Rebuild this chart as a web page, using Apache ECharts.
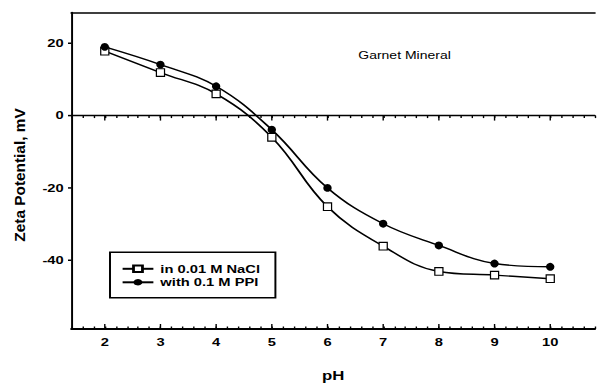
<!DOCTYPE html>
<html>
<head>
<meta charset="utf-8">
<script src="https://cdn.jsdelivr.net/npm/echarts@6/dist/echarts.min.js"></script>
<style>
  html, body { margin: 0; padding: 0; background: #fff; overflow: hidden; }
  /* the reference text is wide, so the chart is drawn narrow and stretched */
  #main { width: 428px; height: 387px; transform: scaleX(1.3995); transform-origin: 0 0; }
</style>
</head>
<body>
<div id="main"></div>
<script>
const phValues = [2, 3, 4, 5, 6, 7, 8, 9, 10];
const naclZeta = [17.8, 11.9, 6.0, -6.0, -25.2, -36.1, -43.1, -44.1, -45.1];
const ppiZeta = [19.0, 14.1, 8.1, -3.9, -20.0, -29.9, -35.9, -40.9, -41.8];
const xMajorTicks = [2, 3, 4, 5, 6, 7, 8, 9, 10];
const yTickValues = [20, 0, -20, -40];
const xMin = 1.4, xMax = 10.8, yMin = -59, yMax = 28.5;

const font = 'Liberation Sans';
const isInt = v => Math.abs(v - Math.round(v)) < 1e-6;

const myChart = echarts.init(document.getElementById('main'), null, { renderer: 'svg' });

const labelStyle = { color: '#000', fontWeight: 'bold', fontSize: 10.5, fontFamily: font };

const option = {
    animation: false,
    backgroundColor: '#fff',
    title: {
        text: 'Garnet Mineral',
        left: 256,
        top: 51,
        padding: 0,
        textStyle: { color: '#000', fontWeight: 'normal', fontSize: 10, fontFamily: font }
    },
    legend: {
        data: ['in 0.01 M NaCl', 'with 0.1 M PPI'],
        orient: 'vertical',
        left: 78.6,
        top: 252.3,
        padding: [11, 11, 10, 8],
        itemGap: 2.5,
        itemWidth: 22,
        itemHeight: 8,
        borderColor: '#000',
        borderWidth: 1.4,
        selectedMode: false,
        textStyle: labelStyle
    },
    grid: { left: 51, top: 12.5, width: 379, height: 325.2 },
    xAxis: [
        {
            type: 'value', min: xMin, max: xMax, interval: 0.2, position: 'bottom',
            axisLine: { onZero: false, lineStyle: { color: '#000', width: 1.8 } },
            axisTick: { inside: true, length: 2.5, lineStyle: { color: '#000', width: 1 } },
            splitLine: { show: false },
            axisLabel: Object.assign({ margin: 8, formatter: v => isInt(v) ? String(Math.round(v)) : '' }, labelStyle),
            name: 'pH', nameLocation: 'middle', nameGap: 41,
            nameTextStyle: { color: '#000', fontWeight: 'bold', fontSize: 12, fontFamily: font }
        },
        {
            // top border
            type: 'value', min: xMin, max: xMax, interval: 0.2, position: 'top',
            axisLine: { onZero: false, lineStyle: { color: '#000', width: 1.6 } },
            axisTick: { show: false }, axisLabel: { show: false }, splitLine: { show: false }
        },
        {
            // zero line
            type: 'value', min: xMin, max: xMax, interval: 0.2, position: 'bottom',
            axisLine: { onZero: true, onZeroAxisIndex: 0, lineStyle: { color: '#000', width: 1.4 } },
            axisTick: { inside: false, length: 2.5, lineStyle: { color: '#000', width: 1 } },
            axisLabel: { show: false }, splitLine: { show: false }
        }
    ],
    yAxis: {
        type: 'value', min: yMin, max: yMax, interval: 0.5,
        axisLine: { onZero: false, lineStyle: { color: '#000', width: 1.4 } },
        axisTick: { show: false },
        splitLine: { show: false },
        axisLabel: Object.assign({ margin: 5.5, formatter: v => isInt(v) && Math.round(v) % 20 === 0 ? String(Math.round(v)) : '' }, labelStyle)
    },
    graphic: [{
        type: 'text', x: 13.6, y: 175, rotation: Math.PI / 2, scaleX: 1.4,
        style: { text: 'Zeta Potential, mV', font: 'bold 11px "Liberation Sans"', fill: '#000', align: 'center', verticalAlign: 'middle' }
    }],
    series: [
        {
            // major ticks on the bottom axis and on the zero line
            type: 'custom', silent: true, clip: false, z: 1,
            data: xMajorTicks.map(x => [x, 0]),
            renderItem: (params, api) => {
                const b = api.coord([api.value(0), yMin]);
                const z = api.coord([api.value(0), 0]);
                const st = { stroke: '#000', lineWidth: 1 };
                return {
                    type: 'group', children: [
                        { type: 'line', shape: { x1: b[0], y1: b[1], x2: b[0], y2: b[1] - 5 }, style: st },
                        { type: 'line', shape: { x1: z[0], y1: z[1], x2: z[0], y2: z[1] + 5 }, style: st }
                    ]
                };
            }
        },
        {
            // y ticks pointing out
            type: 'custom', silent: true, clip: false, z: 1,
            data: yTickValues.map(v => [xMin, v]),
            renderItem: (params, api) => {
                const p = api.coord([api.value(0), api.value(1)]);
                return { type: 'line', shape: { x1: p[0], y1: p[1], x2: p[0] - 2.4, y2: p[1] }, style: { stroke: '#000', lineWidth: 1.5 } };
            }
        },
        {
            name: 'in 0.01 M NaCl', type: 'line', smooth: 0.4,
            data: phValues.map((x, i) => [x, naclZeta[i]]),
            symbol: 'rect', symbolSize: [5.8, 7.6],
            itemStyle: { color: '#fff', borderColor: '#000', borderWidth: 1 },
            lineStyle: { color: '#000', width: 1.4 },
            z: 3
        },
        {
            name: 'with 0.1 M PPI', type: 'line', smooth: 0.4,
            data: phValues.map((x, i) => [x, ppiZeta[i]]),
            symbol: 'circle', symbolSize: [6, 7.8],
            itemStyle: { color: '#000' },
            lineStyle: { color: '#000', width: 1.4 },
            z: 3
        }
    ]
};

option && myChart.setOption(option);
</script>
</body>
</html>
